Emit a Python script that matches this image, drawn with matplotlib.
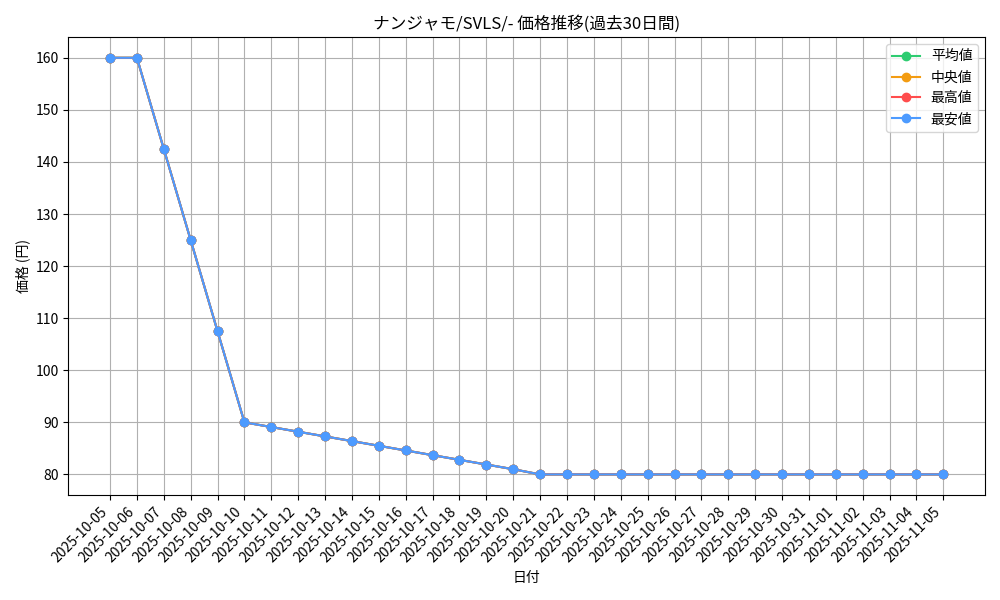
import matplotlib
matplotlib.use('Agg')
import matplotlib.pyplot as plt
import pandas as pd

plt.rcParams['font.family'] = ['Noto Sans CJK JP', 'DejaVu Sans']

dates = [d.strftime('%Y-%m-%d') for d in pd.date_range('2025-10-05', '2025-11-05')]
prices = [160, 160, 142.5, 125, 107.5, 90, 89.1, 88.2, 87.3, 86.4, 85.5, 84.6,
          83.7, 82.8, 81.9, 81.0] + [80] * 16
series = {
    '平均値': ('#2ecc71', prices),
    '中央値': ('#f39c12', prices),
    '最高値': ('#ff4d4d', prices),
    '最安値': ('#4d9bff', prices),
}

fig, ax = plt.subplots(figsize=(10, 6), dpi=100)
for name, (color, vals) in series.items():
    ax.plot(dates, vals, marker='o', color=color, label=name, linewidth=1.5, markersize=6)

ax.set_title('ナンジャモ/SVLS/- 価格推移(過去30日間)', fontsize=12)
ax.set_xlabel('日付')
ax.set_ylabel('価格 (円)')
ax.grid(True, color='#b0b0b0')
ax.legend(loc='upper right')
plt.xticks(rotation=45, ha='right')
plt.tight_layout()
plt.savefig('out.png')
